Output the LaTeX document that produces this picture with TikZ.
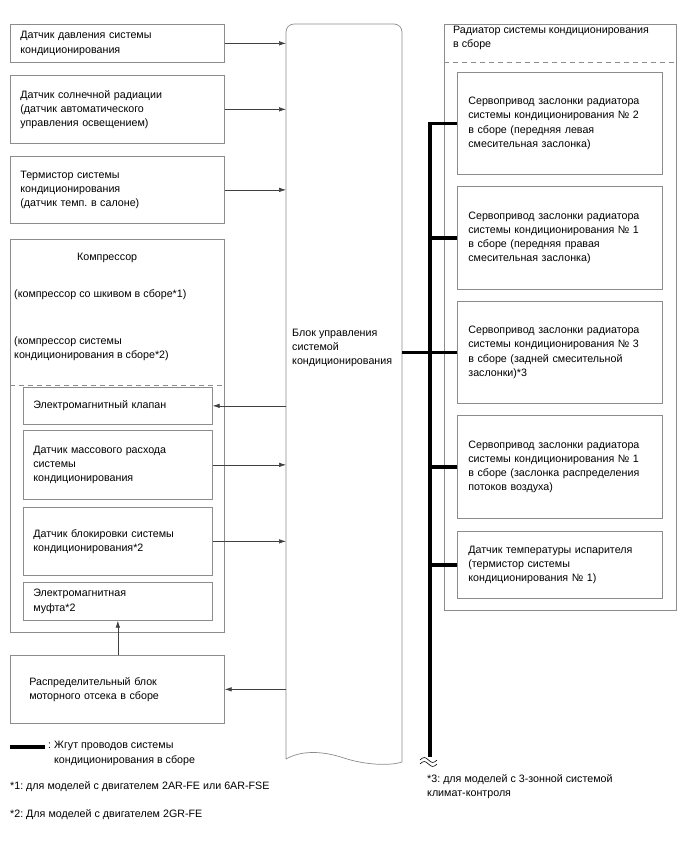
\documentclass[tikz,border=0pt]{standalone}
\usepackage{fontspec}
\setmainfont{Liberation Sans}
\usetikzlibrary{positioning, arrows.meta}
\frenchspacing

\begin{document}
\begin{tikzpicture}[
  x=1pt, y=-1pt,
  font=\fontsize{10.7}{14.2}\selectfont,
  box/.style={draw=black!45, line width=0.7pt, anchor=north west, align=left,
              inner ysep=0pt, inner xsep=10pt, text width=194pt, minimum width=214pt},
  inbox/.style={box, text width=169pt, minimum width=189pt},
  srv/.style={box, inner xsep=11pt, text width=183pt, minimum width=205pt},
  frame/.style={draw=black!45, line width=0.7pt, anchor=north west, inner sep=0pt},
  txt/.style={anchor=west, align=left, inner sep=0pt},
  sig/.style={-{Latex[length=7pt, width=4.5pt]}, line width=0.6pt, black!75},
  bus/.style={line width=3.6pt, black},
  sep/.style={dash pattern=on 5pt off 4pt, draw=black!45, line width=0.7pt}
]
\useasboundingbox (0,0) rectangle (688,852);

% left column: sensors
\node[box, minimum height=38pt] (pressure) at (10,24)
  {Датчик давления системы\\кондиционирования};
\node[box, minimum height=68pt] (solar) at (10,75)
  {Датчик солнечной радиации\\(датчик автоматического\\управления освещением)};
\node[box, minimum height=67pt] (cabin) at (10,156)
  {Термистор системы\\кондиционирования\\(датчик темп. в салоне)};

% compressor assembly
\node[frame, minimum width=214pt, minimum height=393pt] (compr) at (10,239) {};
\node[txt] (comprname) at (77,258) {Компрессор};
\node[txt] (comprA) at (14,295) {(компрессор со шкивом в сборе*1)};
\node[txt] (comprB) at (14,349) {(компрессор системы\\кондиционирования в сборе*2)};
\draw[sep] (compr.west |- 0,385) -- (compr.east |- 0,385);
\node[inbox, minimum height=37pt] (valve) at (23,387) {Электромагнитный клапан};
\node[inbox, minimum height=69pt] (flow) at (23,430)
  {Датчик массового расхода\\системы\\кондиционирования};
\node[inbox, minimum height=68pt] (lock) at (23,507)
  {Датчик блокировки системы\\кондиционирования*2};
\node[inbox, minimum height=38pt] (clutch) at (23,582) {Электромагнитная\\муфта*2};

\node[box, inner xsep=19pt, text width=176pt, minimum height=68pt] (relay) at (10,655)
  {Распределительный блок\\моторного отсека в сборе};

% control unit
\node[anchor=north west, minimum width=116pt, minimum height=735pt, inner sep=0pt] (ecu) at (286,24) {};
\draw[black!45, line width=0.7pt] (286,759) [rounded corners=8pt] -- (286,24) -- (402,24)
  [sharp corners] -- (402,762) .. controls (390,766) and (365,765) .. (344,758)
  .. controls (320,750) and (300,751) .. (286,759);
\node[txt] (ecutext) at (292,348) {Блок управления\\системой\\кондиционирования};

\draw[sig] (pressure.east) -- (pressure.east -| ecu.west);
\draw[sig] (solar.east) -- (solar.east -| ecu.west);
\draw[sig] (cabin.east) -- (cabin.east -| ecu.west);
\draw[sig] (valve.east -| ecu.west) -- (valve.east);
\draw[sig] (flow.east) -- (flow.east -| ecu.west);
\draw[sig] (lock.east) -- (lock.east -| ecu.west);
\draw[sig] (relay.north -| clutch.south) -- (clutch.south);
\draw[sig] (ecu.west |- relay.east) -- (relay.east);

% heater assembly
\node[frame, minimum width=232pt, minimum height=586pt] (heater) at (444,24) {};
\node[txt] (heatername) at (453,38) {Радиатор системы кондиционирования\\в сборе};
\draw[sep] (heater.west |- 0,62) -- (heater.east |- 0,62);
\node[srv, minimum height=102pt] (srvA) at (457,72)
  {Сервопривод заслонки радиатора\\системы кондиционирования № 2\\в сборе (передняя левая\\смесительная заслонка)};
\node[srv, minimum height=103pt] (srvB) at (457,186)
  {Сервопривод заслонки радиатора\\системы кондиционирования № 1\\в сборе (передняя правая\\смесительная заслонка)};
\node[srv, minimum height=102pt] (srvC) at (457,301)
  {Сервопривод заслонки радиатора\\системы кондиционирования № 3\\в сборе (задней смесительной\\заслонки)*3};
\node[srv, minimum height=103pt] (srvD) at (457,415)
  {Сервопривод заслонки радиатора\\системы кондиционирования № 1\\в сборе (заслонка распределения\\потоков воздуха)};
\node[srv, minimum height=67pt] (evap) at (457,531)
  {Датчик температуры испарителя\\(термистор системы\\кондиционирования № 1)};

% wire harness
\coordinate (busend) at (430,757);
\draw[bus] (srvA.west) -| (busend);
\draw[bus] (srvB.west -| busend) -- (srvB.west);
\draw[bus] (ecu.east |- srvC.west) -- (srvC.west);
\draw[bus] (srvD.west -| busend) -- (srvD.west);
\draw[bus] (evap.west -| busend) -- (evap.west);
\draw[line width=0.6pt] (420,760) sin (424.25,757.5) cos (428.5,760) sin (432.75,762.5) cos (437,760);
\draw[line width=0.6pt] (420,764) sin (424.25,761.5) cos (428.5,764) sin (432.75,766.5) cos (437,764);

% legend and notes
\draw[bus] (10,747) -- (45,747);
\node[txt] (legend) at (48,753.5) {: Жгут проводов системы\\\phantom{: }кондиционирования в сборе};
\node[txt] (note1) at (10,787) {*1: для моделей с двигателем 2AR-FE или 6AR-FSE};
\node[txt] (note2) at (10,815) {*2: Для моделей с двигателем 2GR-FE};
\node[txt] (note3) at (427,787) {*3: для моделей с 3-зонной системой\\климат-контроля};
\end{tikzpicture}
\end{document}
